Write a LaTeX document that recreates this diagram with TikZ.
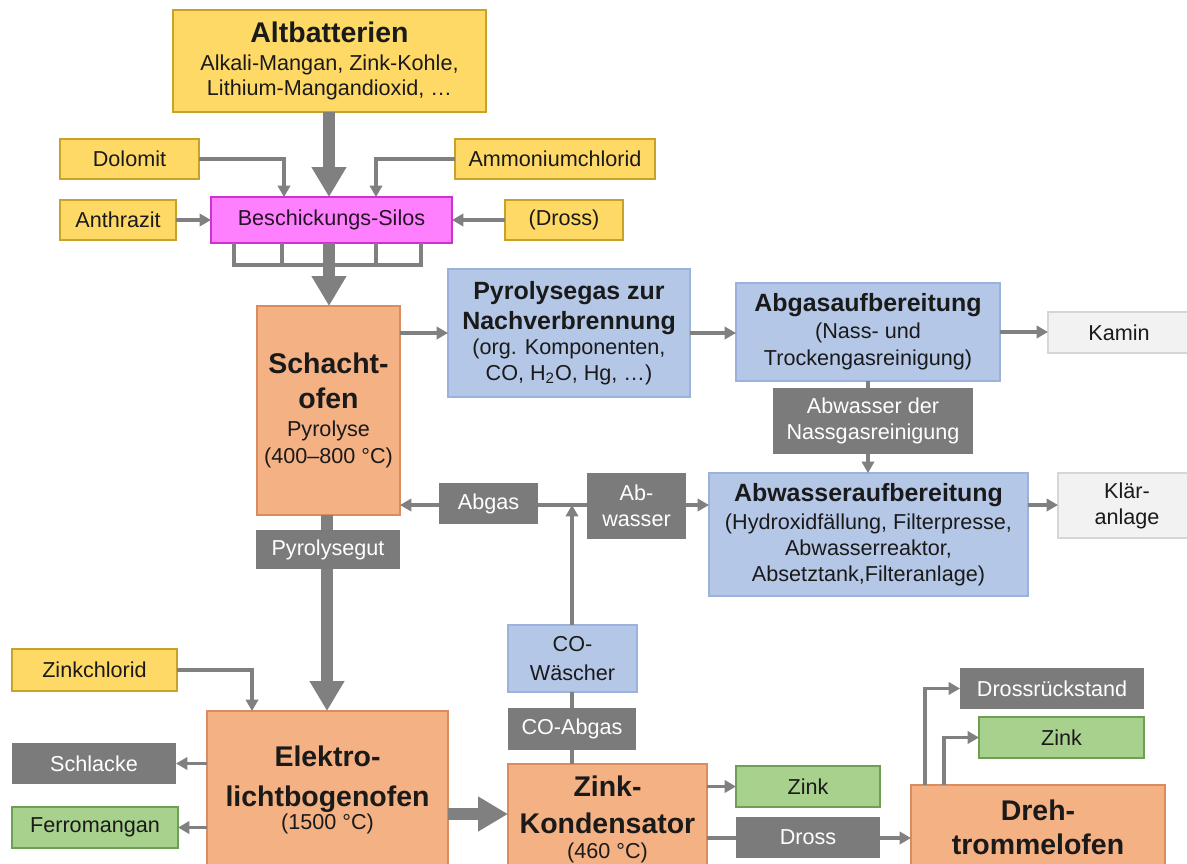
\documentclass[tikz,border=0pt]{standalone}
\usepackage{fontspec}
\setmainfont{Liberation Sans}
\usetikzlibrary{arrows.meta}
\definecolor{yfill}{HTML}{FFD966}
\definecolor{ydraw}{HTML}{C9A227}
\definecolor{mfill}{HTML}{FF80FF}
\definecolor{mdraw}{HTML}{CC33CC}
\definecolor{ofill}{HTML}{F4B183}
\definecolor{odraw}{HTML}{D98C5F}
\definecolor{bfill}{HTML}{B4C7E7}
\definecolor{bdraw}{HTML}{9AB2DC}
\definecolor{gfill}{HTML}{7B7B7B}
\definecolor{grfill}{HTML}{A9D18E}
\definecolor{grdraw}{HTML}{6F9F52}
\definecolor{lfill}{HTML}{F2F2F2}
\definecolor{ldraw}{HTML}{D6D6D6}
\definecolor{arr}{HTML}{808080}
\definecolor{txt}{HTML}{1A1A1A}
\newcommand\nf{\fontsize{12.3}{14.7}\selectfont\lineskiplimit=-\maxdimen\relax}
\newcommand\mb{\bfseries\fontsize{14.2}{14.7}\selectfont}
\newcommand\lb{\bfseries\fontsize{16.2}{14.7}\selectfont}
\tikzset{
 bx/.style n args={4}{minimum width={(#3-#1)*0.02cm}, minimum height={(#4-#2)*0.02cm}, at={({(#1+#3)/2},{(#2+#4)/2})}},
 base/.style={inner sep=0pt, outer sep=0pt, align=center, font=\nf, text=txt, line width=0.8pt},
 yel/.style={base, fill=yfill, draw=ydraw},
 mag/.style={base, fill=mfill, draw=mdraw, text=black!85!mfill},
 ora/.style={base, fill=ofill, draw=odraw},
 blu/.style={base, fill=bfill, draw=bdraw},
 gry/.style={base, fill=gfill, text=white},
 grn/.style={base, fill=grfill, draw=grdraw},
 lgr/.style={base, fill=lfill, draw=ldraw},
 thin/.style={draw=arr, line width=2pt},
 tarr/.style={thin, -{Triangle[length=6.5pt,width=7pt]}},
 big/.style={draw=arr, line width=6.8pt, -{Triangle[length=17pt,width=18.7pt]}},
}
\begin{document}
\begin{tikzpicture}[x=0.02cm,y=-0.02cm]
\useasboundingbox (0,0) rectangle (1187,863);
\clip (0,0) rectangle (1187,863);
\fill[white] (0,0) rectangle (1187,863);
% main nodes
\node[yel, bx={173}{10}{486}{112}] (altb) {{\lb Altbatterien}\\[1.2pt]Alkali-Mangan, Zink-Kohle,\\Lithium-Mangandioxid, …};
\node[yel, bx={60}{139}{199}{179}] (dolomit) {Dolomit};
\node[yel, bx={455}{139}{655}{179}] (ammon) {Ammoniumchlorid};
\node[yel, bx={60}{200}{176}{240}] (anthr) {Anthrazit};
\node[mag, bx={211}{197}{452}{243}] (silo) {Beschickungs-Silos};
\node[yel, bx={505}{200}{623}{240}] (drossin) {(Dross)};
\node[ora, bx={257}{306}{400}{515}] (schacht) {{\lb Schacht-}\\[5.1pt]{\lb ofen}\\[1.5pt]Pyrolyse\\[0.6pt](400–800 °C)};
\node[blu, bx={448}{269}{690}{397}] (pyro) {{\mb Pyrolysegas zur}\\[2.3pt]{\mb Nachverbrennung}\\[-0.5pt](org. Komponenten,\\CO, H\textsubscript{2}O, Hg, …)};
\node[blu, bx={736}{283}{1000}{381}] (abgasauf) {{\mb Abgasaufbereitung}\\[0.6pt](Nass- und\\[0.6pt]Trockengasreinigung)};
\node[lgr, bx={1048}{312}{1190}{353}] (kamin) {Kamin};
\node[blu, bx={709}{473}{1028}{596}] (abwaufb) {{\mb Abwasseraufbereitung}\\[1.2pt](Hydroxidfällung, Filterpresse,\\Abwasserreaktor,\\Absetztank,Filteranlage)};
\node[lgr, bx={1058}{473}{1196}{538}] (klaer) {Klär-\\anlage};
\node[blu, bx={508}{625}{637}{692}] (cowasch) {CO-\\[1.8pt]Wäscher};
\node[yel, bx={12}{649}{177}{691}] (zinkchl) {Zinkchlorid};
\node[ora, bx={207}{711}{448}{869}] (elektro) {{\lb Elektro-}\\[8pt]{\lb lichtbogenofen}\\[-1.5pt](1500 °C)};
\node[gry, bx={12}{743}{176}{784}] (schlacke) {Schlacke};
\node[grn, bx={12}{807}{178}{848}] (ferro) {Ferromangan};
\node[ora, bx={508}{764}{707}{874}] (kond) {{\lb Zink-}\\[6.3pt]{\lb Kondensator}\\[-0.5pt](460 °C)};
\node[grn, bx={736}{766}{880}{807}] (zink1) {Zink};
\node[ora, bx={911}{785}{1165}{869}] (dreh) {{\lb Dreh-}\\[4.6pt]{\lb trommelofen}};
\node[gry, bx={960}{668}{1144}{709}] (drossr) {Drossrückstand};
\node[grn, bx={979}{717}{1144}{758}] (zink2) {Zink};
% helper coordinates
\coordinate (j) at (572,505);
\coordinate (ek) at (0,814);
% connectors
\draw[big] (altb.south -| 329,0) -- (silo.north -| 329,0);
\draw[big] (silo.south -| 329,0) -- (schacht.north -| 329,0);
\draw[thin] (234,243) -- (234,265) -- (421,265) -- (421,243);
\draw[thin] (282,243) -- (282,265);
\draw[thin] (376,243) -- (376,265);
\draw[tarr] (dolomit.east) -| (silo.north -| 284,0);
\draw[tarr] (ammon.west) -| (silo.north -| 376,0);
\draw[tarr] (anthr.east) -- (silo.west |- anthr.east);
\draw[tarr] (drossin.west) -- (silo.east |- drossin.west);
\draw[tarr] (schacht.east |- pyro.west) -- (pyro.west);
\draw[tarr] (pyro.east) -- (abgasauf.west |- pyro.east);
\draw[tarr] (abgasauf.east) -- (kamin.west |- abgasauf.east);
\draw[tarr] (abgasauf.south) -- (abwaufb.north -| abgasauf.south);
\draw[tarr] (j) -- (schacht.east |- j);
\draw[tarr] (j) -- (abwaufb.west |- j);
\draw[tarr] (abwaufb.east |- j) -- (klaer.west |- j);
\draw[thin] (kond.north -| j) -- (cowasch.south -| j);
\draw[tarr] (cowasch.north -| j) -- (j);
\draw[big] (schacht.south -| 327,0) -- (elektro.north -| 327,0);
\draw[tarr] (zinkchl.east) -| (elektro.north -| 252,0);
\draw[tarr] (elektro.west |- schlacke.east) -- (schlacke.east);
\draw[tarr] (elektro.west |- ferro.east) -- (ferro.east);
\draw[big] (elektro.east |- ek) -- (kond.west |- ek);
\draw[tarr] (kond.east |- zink1.west) -- (zink1.west);
\draw[tarr] (kond.east |- 0,838) -- (dreh.west |- 0,838);
\draw[tarr] (dreh.north -| 925,0) |- (drossr.west);
\draw[tarr] (dreh.north -| 944,0) |- (zink2.west);
% labels on connectors
\node[gry, bx={773}{388}{973}{454}] (nass) {Abwasser der\\Nassgasreinigung};
\node[gry, bx={439}{483}{538}{524}] (abgaslbl) {Abgas};
\node[gry, bx={587}{473}{686}{539}] (abwlbl) {Ab-\\wasser};
\node[gry, bx={256}{530}{400}{569}] (pyrogut) {Pyrolysegut};
\node[gry, bx={508}{708}{636}{750}] (coabgas) {CO-Abgas};
\node[gry, bx={736}{817}{880}{858}] (drosslbl) {Dross};
\end{tikzpicture}
\end{document}
